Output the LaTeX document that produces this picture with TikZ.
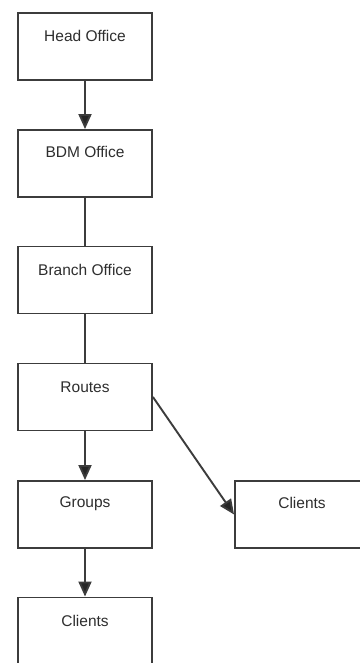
\documentclass[tikz,border=0pt]{standalone}
\usepackage{fontspec}
\setmainfont{Liberation Sans}
\usetikzlibrary{arrows.meta}
\definecolor{edgegray}{HTML}{3C3C3C}
\definecolor{textgray}{HTML}{2E2E2E}
\begin{document}
\begin{tikzpicture}[x=1pt,y=-1pt,
  box/.style={draw=edgegray, line width=1.9pt, fill=white, rectangle,
    minimum width=134pt, minimum height=67pt, inner sep=0pt},
  txt/.style={text=textgray, font=\fontsize{15.5}{18}\selectfont, inner sep=0pt},
  link/.style={draw=edgegray, line width=1.9pt},
  arrow/.style={link, -{Triangle[length=15pt,width=13pt,fill=black!85]}}]
  \useasboundingbox[fill=white] (0,0) rectangle (359,663);

  % boxes of the hierarchy
  \node[box] (head)    at (85,46.5)  {};
  \node[box] (bdm)     at (85,163.5) {};
  \node[box] (branch)  at (85,280)   {};
  \node[box] (routes)  at (85,397)   {};
  \node[box] (groups)  at (85,514.5) {};
  \node[box] (clientsA) at (85,631)  {};
  \node[box] (clientsB) at (302,514.5) {};

  % captions, set near the top edge of each box
  \node[txt] at ([yshift=-24pt]head.north)     {Head Office};
  \node[txt] at ([yshift=-23pt]bdm.north)      {BDM Office};
  \node[txt] at ([yshift=-24pt]branch.north)   {Branch Office};
  \node[txt] at ([yshift=-25pt]routes.north)   {Routes};
  \node[txt] at ([yshift=-24pt]groups.north)   {Groups};
  \node[txt] at ([yshift=-24pt]clientsA.north) {Clients};
  \node[txt] at ([yshift=-23pt]clientsB.north) {Clients};

  % connectors
  \draw[arrow] (head) -- (bdm);
  \draw[link]  (bdm) -- (branch);
  \draw[link]  (branch) -- (routes);
  \draw[arrow] (routes) -- (groups);
  \draw[arrow] (groups) -- (clientsA);
  \draw[arrow] (routes.east) -- (clientsB.west);
\end{tikzpicture}
\end{document}
